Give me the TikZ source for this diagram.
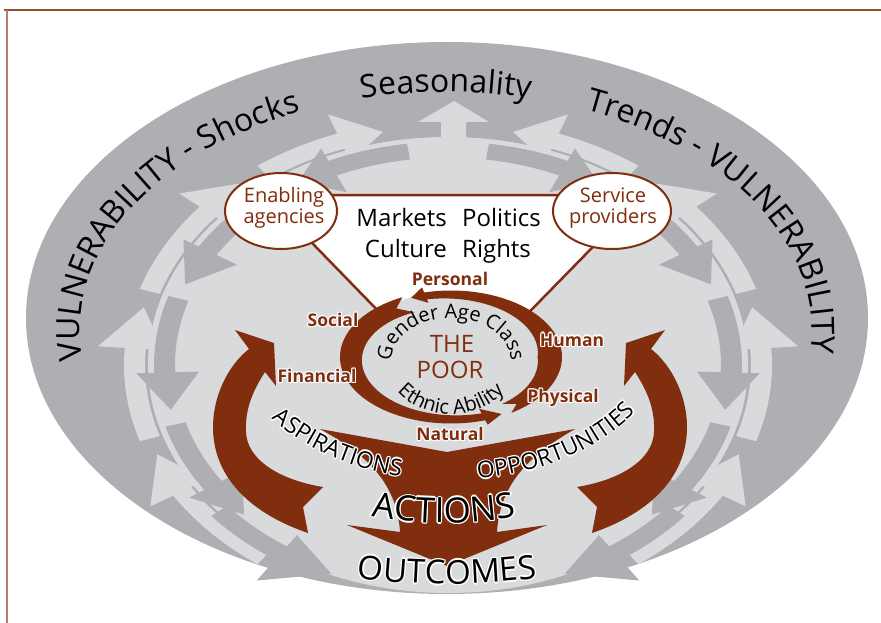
\documentclass[tikz,border=0pt]{standalone}
\usepackage{fontspec}
\setmainfont{Open Sans}
\usetikzlibrary{decorations.text,shapes.geometric}
\definecolor{bandgray}{RGB}{174,175,178}
\definecolor{lightgray2}{RGB}{217,218,220}
\definecolor{brn}{RGB}{128,46,14}
\definecolor{framebrn}{RGB}{150,78,48}
\definecolor{framebrnl}{RGB}{185,125,105}

% ring arrow in scaled polar coordinates
\newcommand\rarrow[8]{\fill[#1] (#2:#5) arc[start angle=#2, end angle=#3, radius=#5] -- (#3:#7) -- (#4:{(#5+#6)/2}) -- (#3:#8) -- (#3:#6) arc[start angle=#3, end angle=#2, radius=#6] -- cycle;}
\newcommand\lightarr[3]{\rarrow{lightgray2}{#1}{#2}{#3}{1.01}{1.08}{0.95}{1.17}}
\newcommand\darkarr[3]{\rarrow{bandgray}{#1}{#2}{#3}{0.91}{0.98}{0.83}{1.04}}

% text along an elliptic arc: #1 font, #2 text, #3 cx, #4 cy, #5 rx, #6 ry, #7 start, #8 end, #9 halo flag
\newcommand\arctext[9]{%
  \ifnum#9>0
    \foreach \hx/\hy in {1.3/0,-1.3/0,0/1.3,0/-1.3,0.9/0.9,-0.9/0.9,0.9/-0.9,-0.9/-0.9}{%
      \path[decorate,decoration={text along path,text align=center,text={|#1\color{white}|#2}}]
        ([shift={(#7:#5 and #6)},xshift=\hx pt,yshift=\hy pt]#3,#4) arc[start angle=#7,end angle=#8,x radius=#5,y radius=#6];}%
  \fi
  \path[decorate,decoration={text along path,text align=center,text={|#1|#2}}]
    ([shift={(#7:#5 and #6)}]#3,#4) arc[start angle=#7,end angle=#8,x radius=#5,y radius=#6];}

% label with white halo: #1 name, #2 position, #3 font, #4 text
\newcommand\halolabel[4]{%
  \foreach \hx/\hy in {1.2/0,-1.2/0,0/1.2,0/-1.2,0.85/0.85,-0.85/0.85,0.85/-0.85,-0.85/-0.85}{%
    \node[text=white,font=#3,inner sep=0pt] at ([xshift=\hx pt,yshift=\hy pt]#2) {#4};}%
  \node[text=brn,font=#3,inner sep=0pt] (#1) at (#2) {#4};}

\newcommand\bigsidearrow{%
  \fill[brn] (235,330) -- (274,343) -- (276,386) -- (265,372)
    .. controls (252,392) and (245,410) .. (246,432)
    .. controls (247,460) and (280,480) .. (323,487)
    -- (303,507) -- (308,533)
    .. controls (255,515) and (212,480) .. (213,425)
    .. controls (214,390) and (232,362) .. (249,349) -- cycle;}

\begin{document}
\begin{tikzpicture}[x=1pt,y=-1pt]
\useasboundingbox (0,0) rectangle (881,623);
\fill[white] (0,0) rectangle (881,623);
% frame
\draw[framebrn,line width=2pt] (4,10) -- (881,10);
\draw[framebrnl,line width=1.5pt] (7,10) -- (7,623);

% outer band and inner region
\fill[bandgray] (447,318) ellipse[x radius=421,y radius=276];
\fill[lightgray2] (448,365) ellipse[x radius=300,y radius=228];

% ring of arrows
\begin{scope}[shift={(448,365)},xscale=300,yscale=228]
  % light arrows flowing upward (left side)
  \lightarr{126}{148}{158}
  \lightarr{162}{184}{194}
  \lightarr{198}{220}{230}
  \lightarr{234}{250}{258}
  % light arrows flowing upward (right side)
  \lightarr{54}{32}{22}
  \lightarr{18}{-4}{-14}
  \lightarr{-18}{-40}{-50}
  \lightarr{-54}{-70}{-78}
  % dark arrows flowing downward (left side)
  \darkarr{262}{246}{238}
  \darkarr{232}{212}{202}
  \darkarr{198}{178}{168}
  \darkarr{164}{146}{136}
  \rarrow{bandgray}{140}{124}{113}{0.96}{1.03}{0.90}{1.14}
  % dark arrows flowing downward (right side)
  \darkarr{-82}{-66}{-58}
  \darkarr{-52}{-32}{-22}
  \darkarr{-18}{2}{12}
  \darkarr{16}{34}{44}
  \rarrow{bandgray}{40}{56}{67}{0.96}{1.03}{0.90}{1.14}
\end{scope}
% big light arrow at the top
\fill[lightgray2] (441,142) -- (441,122) -- (418,122) -- (454,101) -- (489,122) -- (466,122) -- (466,142) -- cycle;

% ring texts
\arctext{\fontsize{32}{32}\selectfont}{VULNERABILITY - Shocks}{446}{330}{366}{238}{158}{257}{0}
\arctext{\fontsize{32}{32}\selectfont}{Seasonality}{446}{330}{366}{238}{250}{290}{0}
\arctext{\fontsize{32}{32}\selectfont}{Trends - VULNERABILITY}{446}{330}{366}{238}{283}{379}{0}

% triangle and agencies
\filldraw[fill=white,draw=brn,line width=2.5pt] (281,195) -- (628,195) -- (628,211) -- (454,389) -- (281,211) -- cycle;
\node[draw=brn,line width=2pt,fill=white,shape=ellipse,minimum width=112pt,minimum height=76pt,inner sep=0pt] (ena) at (281,211) {};
\node[text=brn,align=center,font=\fontsize{20}{21}\selectfont] (enat) at (284,208) {Enabling\\agencies};
\node[draw=brn,line width=2pt,fill=white,shape=ellipse,minimum width=118pt,minimum height=76pt,inner sep=0pt] (srv) at (612,211) {};
\node[text=brn,align=center,font=\fontsize{20}{21}\selectfont] (srvt) at (613,208) {Service\\providers};
\node[anchor=base east,font=\fontsize{24}{24}\selectfont,inner sep=0pt] (mkt) at (447,226) {Markets};
\node[anchor=base west,font=\fontsize{24}{24}\selectfont,inner sep=0pt] (pol) at (462,226) {Politics};
\node[anchor=base east,font=\fontsize{24}{24}\selectfont,inner sep=0pt] (cul) at (447,257) {Culture};
\node[anchor=base west,font=\fontsize{24}{24}\selectfont,inner sep=0pt] (rig) at (462,257) {Rights};

% the poor loop
\fill[lightgray2] (451,357) ellipse[x radius=108,y radius=64];
\begin{scope}[shift={(451,357)},xscale=111,yscale=66.5]
  \fill[brn] plot[domain=244:72,samples=60] (\x:1) -- (72:1.07) -- (62:0.97) -- (72:0.82)
    -- plot[domain=72:244,samples=60] (\x:{0.885-0.1*(\x-80)/120}) -- (236:0.88) -- cycle;
  \fill[brn] plot[domain=57:-104,samples=80] (\x:1) -- (-104:1.08) -- (-112:0.96) -- (-104:0.84)
    -- plot[domain=-104:57,samples=80] (\x:{0.78+0.0011*abs(\x)}) -- (50:0.92) -- cycle;
\end{scope}
\node[text=brn,font=\fontsize{24}{24}\selectfont,inner sep=0pt,anchor=base] (the) at (452,352) {THE};
\node[text=brn,font=\fontsize{24}{24}\selectfont,inner sep=0pt,anchor=base] (poor) at (450,378) {POOR};
\arctext{\fontsize{20}{20}\selectfont}{Gender Age Class}{451}{362}{60}{44}{180}{360}{0}
\arctext{\fontsize{20}{20}\selectfont}{Ethnic Ability}{451}{360}{66}{54}{180}{0}{0}

% big side arrows
\bigsidearrow
\begin{scope}[shift={(900,0)},xscale=-1]
  \bigsidearrow
\end{scope}
% funnel to outcomes
\fill[brn] (320,429) -- (447,452) -- (575,429)
  .. controls (535,452) and (500,480) .. (497,532)
  -- (547,525) -- (447,566) -- (347,525) -- (400,532)
  .. controls (397,480) and (362,452) .. (320,429) -- cycle;

% capital labels
\node[text=brn,font=\bfseries\fontsize{17.5}{17.5}\selectfont,inner sep=0pt] (pers) at (450,279) {Personal};
\halolabel{soc}{333,320}{\bfseries\fontsize{17.5}{17.5}\selectfont}{Social}
\halolabel{fin}{317,376}{\bfseries\fontsize{17.5}{17.5}\selectfont}{Financial}
\halolabel{hum}{572,340}{\bfseries\fontsize{17.5}{17.5}\selectfont}{Human}
\halolabel{phy}{563,398}{\bfseries\fontsize{17.5}{17.5}\selectfont}{Physical}
\halolabel{nat}{450,434}{\bfseries\fontsize{17.5}{17.5}\selectfont}{Natural}

% curved capitals
\arctext{\fontsize{23}{23}\selectfont}{ASPIRATIONS}{450}{328}{222}{152}{167}{85}{1}
\arctext{\fontsize{23}{23}\selectfont}{OPPORTUNITIES}{450}{328}{222}{152}{95}{17}{1}
\arctext{\fontsize{35}{35}\selectfont}{ACTIONS}{444}{112}{411}{411}{110}{70}{1}
\arctext{\fontsize{33}{33}\selectfont}{OUTCOMES}{447}{-94}{678}{678}{105}{75}{1}
\end{tikzpicture}
\end{document}
